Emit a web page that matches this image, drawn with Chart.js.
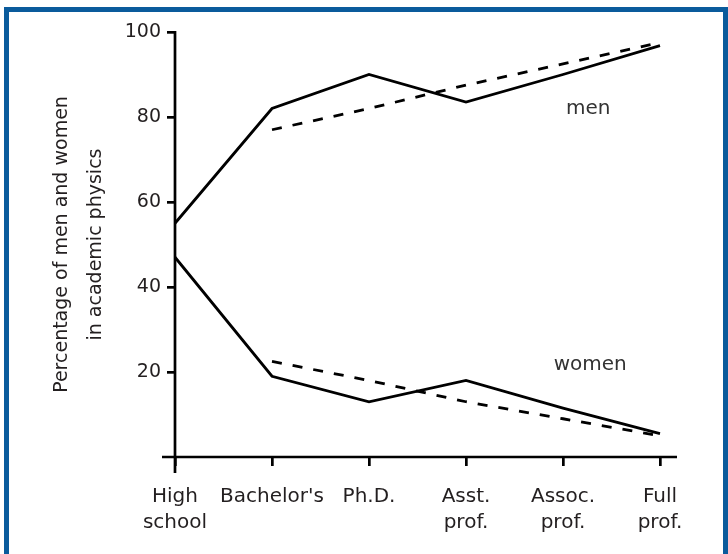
<!DOCTYPE html>
<html>
<head>
<meta charset="utf-8">
<script src="https://cdn.jsdelivr.net/npm/chart.js@4.4.1/dist/chart.umd.min.js"></script>
<style>
  html, body { margin: 0; padding: 0; background: #ffffff; overflow: hidden; }
  #wrap { position: relative; width: 728px; height: 554px; }
  #frame { position: absolute; left: 4px; top: 7px; width: 714px; height: 600px;
           border: 5px solid #0a5b9c; border-bottom: none; box-sizing: content-box; pointer-events: none; }
  canvas { position: absolute; left: 0; top: 0; }
</style>
</head>
<body>
<div id="wrap">
  <canvas id="c" width="728" height="554"></canvas>
  <div id="frame"></div>
</div>
<script>
// ---- data ----
const categories = [["High", "school"], ["Bachelor's"], ["Ph.D."], ["Asst.", "prof."], ["Assoc.", "prof."], ["Full", "prof."]];
const menSolid    = [55, 82, 90, 83.5, 90, 96.8];
const menDashed   = [null, 77, 82, 87.5, 92.5, 97.5];
const womenSolid  = [47, 19, 13, 18, 11.5, 5.5];
const womenDashed = [null, 22.5, 18, 13, 9, 5];
const yTicks = [20, 40, 60, 80, 100];
const yTitle = ["Percentage of men and women", "in academic physics"];
const annotations = [
  { text: "men",   x: 4.26, y: 82 },
  { text: "women", x: 4.28, y: 21.8 }
];

const FONT = "'DejaVu Sans', 'Open Sans', sans-serif";
const INK = "#000000";
const TEXT = "#231f20";

const axisPlugin = {
  id: 'crossAxes',
  beforeDatasetsDraw(chart) {
    const { ctx, scales: { x, y } } = chart;
    const x0 = x.getPixelForValue(0);
    const yTop = y.getPixelForValue(100);
    const yBot = y.getPixelForValue(0);
    const xEnd = x.getPixelForValue(categories.length - 1);
    ctx.save();
    ctx.strokeStyle = INK;
    ctx.lineWidth = 2.7;
    ctx.lineCap = 'butt';
    ctx.beginPath();
    ctx.moveTo(x0, yTop - 1);
    ctx.lineTo(x0, yBot + 16);
    ctx.moveTo(x0 - 13, yBot);
    ctx.lineTo(xEnd + 17, yBot);
    ctx.stroke();
    ctx.restore();
  },
  afterDatasetsDraw(chart) {
    const { ctx, scales: { x, y } } = chart;
    ctx.save();
    ctx.fillStyle = "#333333";
    ctx.font = "20px " + FONT;
    ctx.textAlign = 'center';
    ctx.textBaseline = 'middle';
    annotations.forEach(a => ctx.fillText(a.text, x.getPixelForValue(a.x), y.getPixelForValue(a.y)));
    ctx.restore();
  }
};

const lineStyle = (data, dashed) => ({
  data,
  borderColor: INK,
  borderWidth: 2.8,
  borderDash: dashed ? [10, 11] : [],
  pointRadius: 0,
  tension: 0,
  fill: false,
  spanGaps: false
});

new Chart(document.getElementById('c'), {
  type: 'line',
  data: {
    labels: categories,
    datasets: [
      lineStyle(menSolid, false),
      lineStyle(menDashed, true),
      lineStyle(womenSolid, false),
      lineStyle(womenDashed, true)
    ]
  },
  options: {
    responsive: false,
    animation: false,
    devicePixelRatio: 1,
    layout: { padding: { top: 32, right: 68, bottom: 0, left: 0 } },
    plugins: { legend: { display: false }, tooltip: { enabled: false } },
    scales: {
      x: {
        type: 'category',
        offset: false,
        border: { display: false },
        grid: { display: true, drawOnChartArea: false, drawTicks: true, tickLength: 9, color: INK, lineWidth: 2.7, offset: false },
        ticks: { color: TEXT, font: { family: FONT, size: 20, lineHeight: 1.3 }, padding: 18, maxRotation: 0, autoSkip: false },
        afterFit(s) { s.height = 97; }
      },
      y: {
        min: 0, max: 100,
        border: { display: false },
        grid: { display: true, drawOnChartArea: false, drawTicks: true, tickLength: 8, color: INK, lineWidth: 2.7 },
        afterBuildTicks(s) { s.ticks = yTicks.map(v => ({ value: v })); },
        ticks: { color: TEXT, font: { family: FONT, size: 19 }, padding: 6 },
        title: { display: true, text: yTitle, color: TEXT, font: { family: FONT, size: 19, lineHeight: 1.8 }, padding: { top: 45, bottom: 0 } },
        afterFit(s) { s.width = 175; }
      }
    }
  },
  plugins: [axisPlugin]
});
</script>
</body>
</html>
